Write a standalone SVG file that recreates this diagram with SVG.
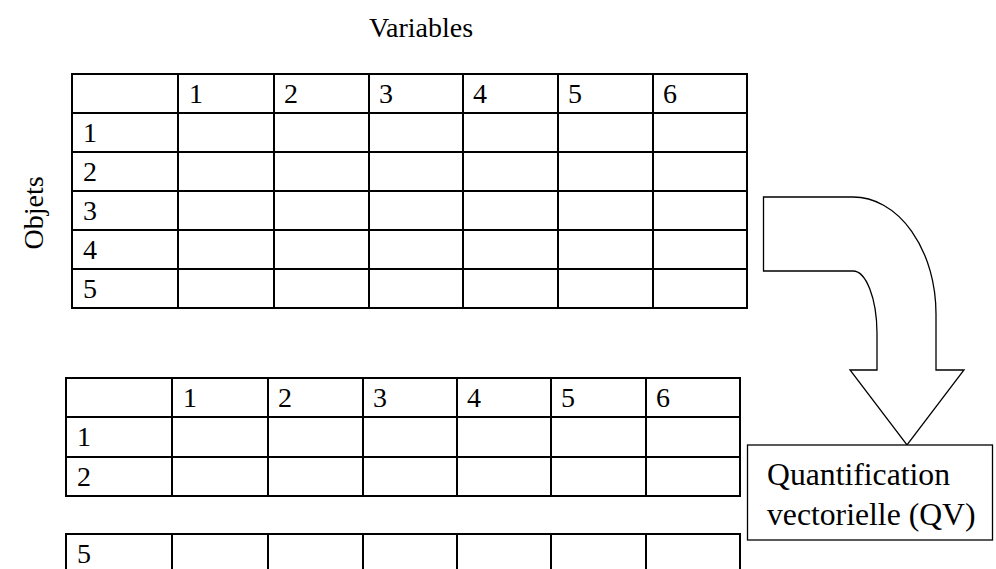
<svg xmlns="http://www.w3.org/2000/svg" width="996" height="569" viewBox="0 0 996 569">
<style>
text{font-family:"Liberation Serif","Times New Roman",serif;fill:#000}
.t{font-size:28px}
.b{font-size:31.7px}
.g line{stroke:#000;stroke-width:2}
</style>
<rect width="996" height="569" fill="#fff"/>
<text class="t" x="421" y="37" text-anchor="middle">Variables</text>
<text class="t" transform="translate(43,213) rotate(-90)" text-anchor="middle">Objets</text>
<g id="table1" class="g">
<line x1="71" y1="74" x2="748" y2="74"/>
<line x1="71" y1="113" x2="748" y2="113"/>
<line x1="71" y1="152" x2="748" y2="152"/>
<line x1="71" y1="191" x2="748" y2="191"/>
<line x1="71" y1="230" x2="748" y2="230"/>
<line x1="71" y1="269" x2="748" y2="269"/>
<line x1="71" y1="308" x2="748" y2="308"/>
<line x1="72" y1="73" x2="72" y2="309"/>
<line x1="178" y1="73" x2="178" y2="309"/>
<line x1="274" y1="73" x2="274" y2="309"/>
<line x1="369" y1="73" x2="369" y2="309"/>
<line x1="463" y1="73" x2="463" y2="309"/>
<line x1="558" y1="73" x2="558" y2="309"/>
<line x1="653" y1="73" x2="653" y2="309"/>
<line x1="747" y1="73" x2="747" y2="309"/>
<text class="t" x="189" y="103">1</text>
<text class="t" x="284" y="103">2</text>
<text class="t" x="379" y="103">3</text>
<text class="t" x="473" y="103">4</text>
<text class="t" x="568" y="103">5</text>
<text class="t" x="663" y="103">6</text>
<text class="t" x="83" y="142">1</text>
<text class="t" x="83" y="181">2</text>
<text class="t" x="83" y="220">3</text>
<text class="t" x="83" y="259">4</text>
<text class="t" x="83" y="298">5</text>
</g>
<g id="table2" class="g">
<line x1="65" y1="378" x2="741" y2="378"/>
<line x1="65" y1="417" x2="741" y2="417"/>
<line x1="65" y1="457" x2="741" y2="457"/>
<line x1="65" y1="496" x2="741" y2="496"/>
<line x1="66" y1="377" x2="66" y2="497"/>
<line x1="172" y1="377" x2="172" y2="497"/>
<line x1="268" y1="377" x2="268" y2="497"/>
<line x1="363" y1="377" x2="363" y2="497"/>
<line x1="457" y1="377" x2="457" y2="497"/>
<line x1="551" y1="377" x2="551" y2="497"/>
<line x1="646" y1="377" x2="646" y2="497"/>
<line x1="740" y1="377" x2="740" y2="497"/>
<text class="t" x="183" y="407">1</text>
<text class="t" x="278" y="407">2</text>
<text class="t" x="373" y="407">3</text>
<text class="t" x="467" y="407">4</text>
<text class="t" x="561" y="407">5</text>
<text class="t" x="656" y="407">6</text>
<text class="t" x="77" y="446">1</text>
<text class="t" x="77" y="486">2</text>
</g>
<g id="table3" class="g">
<line x1="65" y1="534" x2="741" y2="534"/>
<line x1="66" y1="533" x2="66" y2="569"/>
<line x1="172" y1="533" x2="172" y2="569"/>
<line x1="268" y1="533" x2="268" y2="569"/>
<line x1="363" y1="533" x2="363" y2="569"/>
<line x1="457" y1="533" x2="457" y2="569"/>
<line x1="551" y1="533" x2="551" y2="569"/>
<line x1="646" y1="533" x2="646" y2="569"/>
<line x1="740" y1="533" x2="740" y2="569"/>
<text class="t" x="77" y="563">5</text>
</g>
<g id="connectors">
<path d="M763.5,197 L853,197 A83,117 0 0 1 936,314 L936,370 L964,370 L907,445 L850,370 L877,370 L877,333 A24,63 0 0 0 853,271 L763.5,271 Z" fill="#fff" stroke="#000" stroke-width="1.3"/>
</g>
<g id="qv">
<rect x="747.5" y="445" width="245" height="95" fill="#fff" stroke="#000" stroke-width="1.3"/>
<text class="b" x="767" y="485">Quantification</text>
<text class="b" x="767" y="525">vectorielle (QV)</text>
</g>
</svg>
